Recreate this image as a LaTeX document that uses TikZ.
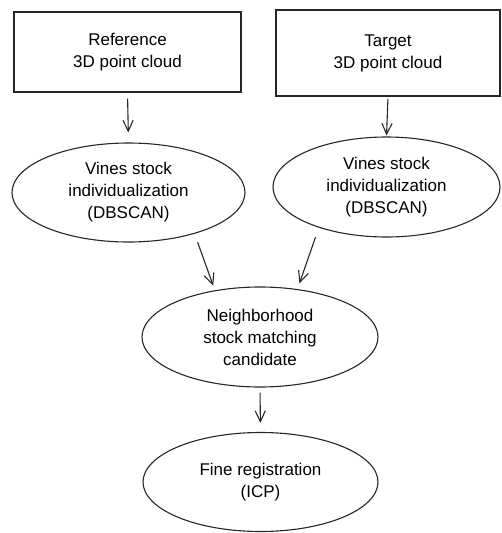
\documentclass[tikz,border=0pt]{standalone}
\usepackage{fontspec}
\setmainfont{Liberation Sans}
\usepackage{tikz}
\usetikzlibrary{positioning,shapes,arrows.meta}

\begin{document}
\begin{tikzpicture}[x=1pt, y=-1pt,
    box/.style={rectangle, draw=black!85, line width=1.1pt, inner sep=0pt, align=center, font=\fontsize{17}{22}\selectfont},
    blob/.style={ellipse, draw=black!85, line width=1.1pt, inner sep=0pt, align=center, font=\fontsize{17}{22}\selectfont},
    flow/.style={draw=black!85, line width=1.1pt, -{Straight Barb[angle=50:12pt]}}]
    \useasboundingbox (0,0) rectangle (501,533);

    % input clouds
    \node[box, minimum width=227pt, minimum height=80pt] (refcloud) at (127.5,52) {Reference\\3D point cloud};
    \node[box, minimum width=224pt, minimum height=86pt] (tgtcloud) at (388,53) {Target\\3D point cloud};

    % clustering
    \node[blob, minimum width=233pt, minimum height=99pt] (refstock) at (128.5,192.5) {Vines stock\\individualization\\(DBSCAN)};
    \node[blob, minimum width=227pt, minimum height=100pt] (tgtstock) at (386.5,187) {Vines stock\\individualization\\(DBSCAN)};

    \node[blob, minimum width=236pt, minimum height=100pt] (match) at (260,337) {Neighborhood\\stock matching\\candidate};
    \node[blob, minimum width=235pt, minimum height=99pt] (icp) at (260.5,482) {Fine registration\\(ICP)};

    \draw[flow, shorten <=6pt, shorten >=10pt] (refcloud.south) -- (refstock.north);
    \draw[flow, shorten <=2pt, shorten >=1pt] (tgtcloud.south) -- (tgtstock.north);
    \draw[flow, shorten <=9pt, shorten >=5pt] (refstock.-32) -- (match.134);
    \draw[flow, shorten <=10pt, shorten >=6pt] (tgtstock.-149) -- (match.52);
    \draw[flow, shorten <=5pt, shorten >=9pt] (match.south) -- (icp.north);
\end{tikzpicture}
\end{document}
